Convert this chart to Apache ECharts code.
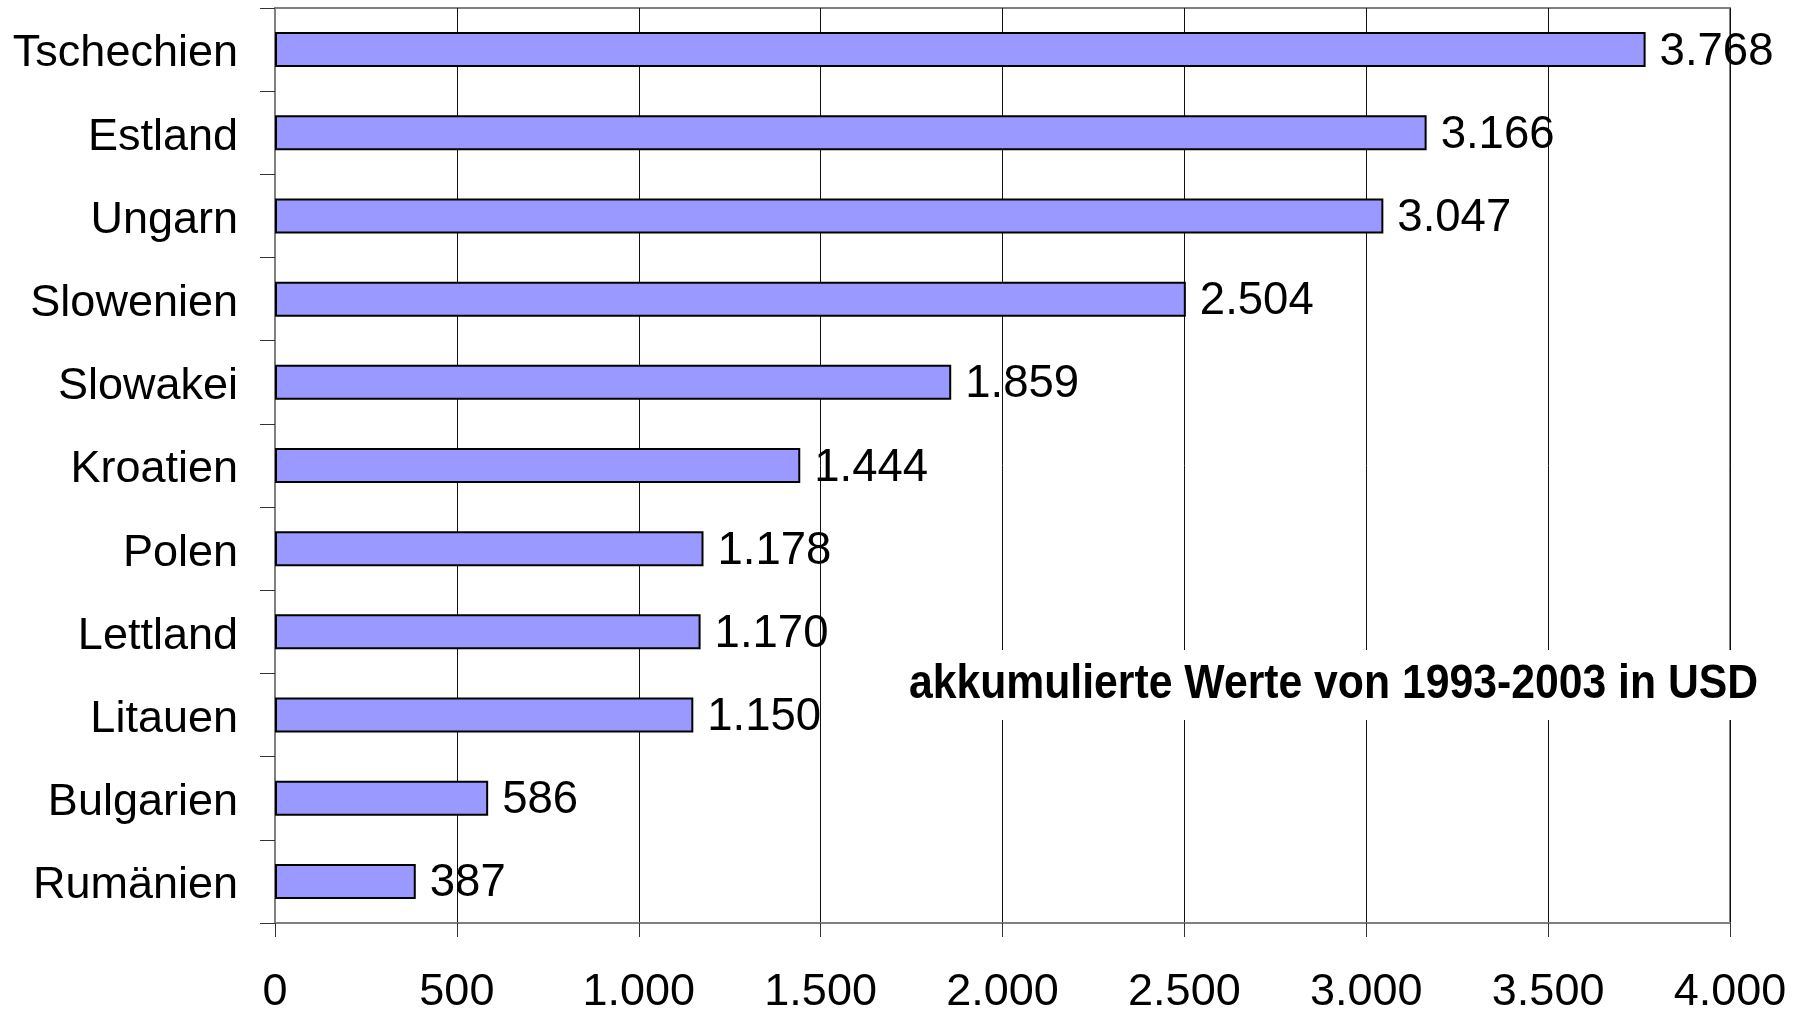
<!DOCTYPE html>
<html>
<head>
<meta charset="utf-8">
<script src="https://cdn.jsdelivr.net/npm/echarts@6/dist/echarts.min.js"></script>
<style>
  html, body { margin: 0; padding: 0; background: #fff; }
  #chart { width: 1804px; height: 1010px; }
</style>
</head>
<body>
<div id="chart"></div>
<script>
// Laender, von oben nach unten
var countries = ['Tschechien', 'Estland', 'Ungarn', 'Slowenien', 'Slowakei', 'Kroatien',
                 'Polen', 'Lettland', 'Litauen', 'Bulgarien', 'Rumänien'];
var values = [3768, 3166, 3047, 2504, 1859, 1444, 1178, 1170, 1150, 586, 387];
var axisMin = 0;
var axisMax = 4000;
var axisStep = 500;
var note = 'akkumulierte Werte von 1993-2003 in USD';

// 3768 -> "3.768"
function fmt(v) {
    return String(v).replace(/\B(?=(\d{3})+(?!\d))/g, '.');
}

var myChart = echarts.init(document.getElementById('chart'));
var font = 'Arial, "Liberation Sans", sans-serif';

var option = {
    animation: false,
    backgroundColor: '#fff',
    grid: {
        left: 275, right: 74, top: 8, bottom: 87,
        outerBoundsMode: 'none',
        containLabel: false,
        show: true,
        borderColor: '#808080',
        borderWidth: 2,
        backgroundColor: '#fff'
    },
    xAxis: {
        type: 'value',
        min: axisMin, max: axisMax, interval: axisStep,
        axisLine: { show: true, lineStyle: { color: '#808080', width: 2 } },
        axisTick: { show: true, length: 14, lineStyle: { color: '#333', width: 1 } },
        splitLine: { show: true, lineStyle: { color: '#111', width: 1 } },
        axisLabel: {
            color: '#000', fontSize: 45, fontFamily: font, margin: 47,
            formatter: function (v) { return fmt(v); }
        }
    },
    yAxis: {
        type: 'category',
        data: countries,
        inverse: true,
        axisLine: { show: true, lineStyle: { color: '#808080', width: 2 } },
        axisTick: { show: true, inside: false, length: 15, lineStyle: { color: '#333', width: 1 } },
        axisLabel: {
            color: '#000', fontSize: 45, fontFamily: font, margin: 37,
            verticalAlign: 'top', lineHeight: 9
        }
    },
    series: [{
        type: 'bar',
        data: values,
        barWidth: 35,
        itemStyle: { color: '#9999FF', borderColor: '#000', borderWidth: 2 },
        label: {
            show: true, position: 'right', distance: 14,
            color: '#000', fontSize: 45.5, fontFamily: font,
            verticalAlign: 'top', lineHeight: 5,
            formatter: function (p) { return fmt(p.value); }
        },
        z: 3
    }],
    graphic: [{
        type: 'text',
        z: 100,
        x: 900, y: 650,
        scaleX: 0.89,
        style: {
            text: note,
            font: 'bold 48px Arial, "Liberation Sans", sans-serif',
            fill: '#000',
            backgroundColor: '#fff',
            padding: [11, 10, 11, 10]
        }
    }]
};

myChart.setOption(option);
</script>
</body>
</html>
